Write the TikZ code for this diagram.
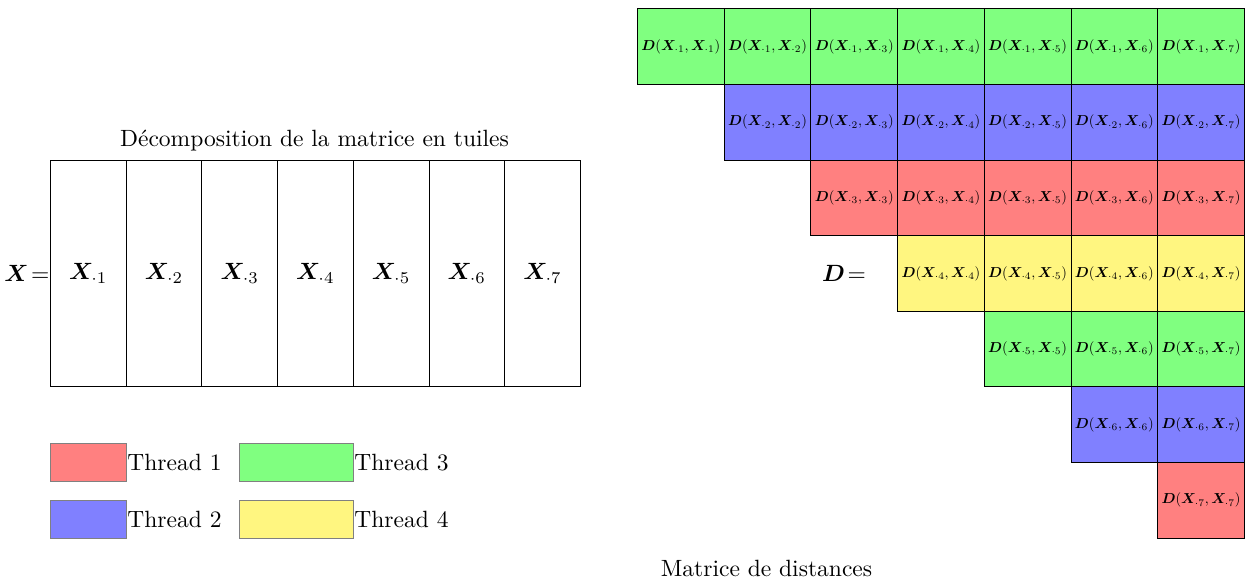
\documentclass[tikz,border=0pt]{standalone}
\usepackage{amsmath}
\usepackage{bm}
\usepackage{graphicx}
\definecolor{cgreen}{RGB}{128,255,128}
\definecolor{cblue}{RGB}{128,128,255}
\definecolor{cred}{RGB}{255,128,128}
\definecolor{cyel}{RGB}{255,246,128}
\newcommand{\pxu}{0.425pt}
\newcommand{\celltext}[2]{\resizebox{33.5pt}{!}{$\bm{D}(\bm{X}_{\cdot #1},\bm{X}_{\cdot #2})$}}
\begin{document}
\begin{tikzpicture}[x=0.425pt,y=-0.425pt,
  cell/.style={draw=black, minimum width=86.7*\pxu, minimum height=75.6*\pxu, inner sep=0pt, anchor=north west},
  tile/.style={draw=black, minimum width=75.7*\pxu, minimum height=226*\pxu, inner sep=0pt, anchor=north west},
  legbox/.style={draw=gray, minimum width=#1*\pxu, minimum height=38*\pxu, inner sep=0pt, anchor=north west},
  leglabel/.style={anchor=west, inner sep=0pt}]
\useasboundingbox (0,0) rectangle (1245,587);
% left: tiles
\node[anchor=base, inner sep=0pt] (title) at (314.5,146.5) {D\'ecomposition de la matrice en tuiles};
\foreach \j in {1,...,7} {
  \node[tile] (t\j) at ({50+(\j-1)*75.7},160) {$\bm{X}_{\cdot \j}$};
}
\node[anchor=east, inner sep=0pt] (xeq) at (t1.west) {$\bm{X}\!=$};
% legend
\node[legbox=76, fill=cred] (l1) at (50,443) {};
\node[leglabel] (l1t) at (l1.east) {Thread 1};
\node[legbox=76, fill=cblue] (l2) at (50,500) {};
\node[leglabel] (l2t) at (l2.east) {Thread 2};
\node[legbox=114, fill=cgreen] (l3) at (239,443) {};
\node[leglabel] (l3t) at (l3.east) {Thread 3};
\node[legbox=114, fill=cyel] (l4) at (239,500) {};
\node[leglabel] (l4t) at (l4.east) {Thread 4};
% right: distance matrix
\foreach \i/\c in {1/cgreen,2/cblue,3/cred,4/cyel,5/cgreen,6/cblue,7/cred} {
  \foreach \j in {\i,...,7} {
    \node[cell, fill=\c] (d\i\j) at ({637+(\j-1)*86.7},{8.5+(\i-1)*75.6}) {\celltext{\i}{\j}};
  }
}
\node[inner sep=0pt] (deq) at (844,273) {$\bm{D}\!=$};
\node[anchor=base, inner sep=0pt] (mtitle) at (766.5,577) {Matrice de distances};
\end{tikzpicture}
\end{document}
